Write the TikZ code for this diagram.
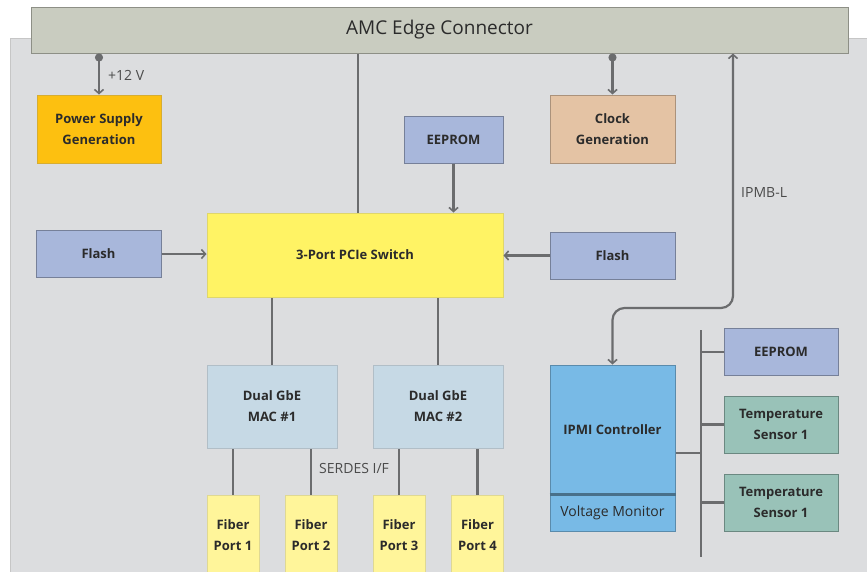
\documentclass[tikz,border=0pt]{standalone}
\usepackage{fontspec}
\setmainfont{Open Sans}
\usetikzlibrary{arrows.meta,positioning}
\definecolor{amcpanel}{HTML}{DCDDDF}
\definecolor{amcedge}{HTML}{C9CCC0}
\definecolor{amcline}{HTML}{6B6C6E}
\definecolor{amctext}{HTML}{2B2B2B}
\definecolor{amcpower}{HTML}{FDC010}
\definecolor{amcmem}{HTML}{A8B7DB}
\definecolor{amcclock}{HTML}{E4C3A4}
\definecolor{amcswitch}{HTML}{FFF364}
\definecolor{amcmac}{HTML}{C6D9E5}
\definecolor{amcfiber}{HTML}{FFF59A}
\definecolor{amcipmi}{HTML}{78BAE6}
\definecolor{amctemp}{HTML}{99C2B8}

\begin{document}
\begin{tikzpicture}[x=1pt, y=-1pt,
  every node/.style={text=amctext, font=\fontsize{13}{21}\selectfont\bfseries},
  block/.style={draw, rectangle, line width=1pt, align=center, inner sep=0pt},
  link/.style={draw=amcline, line width=2.2pt},
  tip/.style={-{Straight Barb[length=4pt, width=9pt, line width=1.6pt]}},
  tap/.style={{Circle[length=8pt]}-{Straight Barb[length=4pt, width=9pt, line width=1.6pt]}},
  sig/.style={font=\fontsize{14}{16}\selectfont, text=amctext!85, inner sep=0pt}]
  \useasboundingbox (0,0) rectangle (867,571);

  % Board outline
  \fill[amcpanel, draw=gray!45, line width=1pt] (10,38) rectangle (880,590);

  % Edge connector
  \node[block, fill=amcedge, draw=amcedge!70!black, minimum width=817pt, minimum height=46pt,
        font=\fontsize{19}{22}\selectfont] (amc) at (439.5,30) {AMC Edge Connector};

  % Power and clock
  \node[block, fill=amcpower, draw=amcpower!70!gray, minimum width=124pt, minimum height=68pt] (psu) at (99,129) {Power Supply\\Generation};
  \node[block, fill=amcclock, draw=amcclock!75!black, minimum width=125pt, minimum height=68pt] (clock) at (612.5,129) {Clock\\Generation};
  \draw[link, tap] (psu.north |- amc.south) -- (psu.north);
  \draw[link, tap] (clock.north |- amc.south) -- (clock.north);
  \node[sig, anchor=west] (v12) at (108,75) {+12 V};

  % PCIe switch
  \node[block, fill=amcswitch, draw=amcswitch!75!gray, minimum width=296pt, minimum height=84pt] (pcie) at (355,255) {3-Port PCIe Switch};
  \draw[link] ([xshift=3pt]pcie.north) -- ([xshift=3pt]pcie.north |- amc.south);

  \node[block, fill=amcmem, draw=amcmem!70!black, minimum width=99pt, minimum height=47pt] (eeprom) at (453.5,139.5) {EEPROM};
  \draw[link, tip] (eeprom.south) -- (eeprom.south |- pcie.north);

  \node[block, fill=amcmem, draw=amcmem!70!black, minimum width=125pt, minimum height=47pt] (flashl) at (98.5,254) {Flash};
  \node[block, fill=amcmem, draw=amcmem!70!black, minimum width=125pt, minimum height=47pt] (flashr) at (612.5,255.5) {Flash};
  \draw[link, tip] (flashl.east) -- (flashl.east -| pcie.west);
  \draw[link, tip] (flashr.west) -- (flashr.west -| pcie.east);

  % GbE MACs
  \node[block, fill=amcmac, draw=amcmac!70!gray, minimum width=130pt, minimum height=83pt] (mac1) at (272,406.5) {Dual GbE\\MAC \#1};
  \node[block, fill=amcmac, draw=amcmac!70!gray, minimum width=130pt, minimum height=83pt] (mac2) at (438,406.5) {Dual GbE\\MAC \#2};
  \draw[link] (mac1.north) -- (mac1.north |- pcie.south);
  \draw[link] (mac2.north) -- (mac2.north |- pcie.south);

  % Fiber ports
  \node[block, fill=amcfiber, draw=amcfiber!75!gray, minimum width=52pt, minimum height=80pt] (fiber1) at (233,535) {Fiber\\Port 1};
  \node[block, fill=amcfiber, draw=amcfiber!75!gray, minimum width=52pt, minimum height=80pt] (fiber2) at (311,535) {Fiber\\Port 2};
  \node[block, fill=amcfiber, draw=amcfiber!75!gray, minimum width=52pt, minimum height=80pt] (fiber3) at (399,535) {Fiber\\Port 3};
  \node[block, fill=amcfiber, draw=amcfiber!75!gray, minimum width=52pt, minimum height=80pt] (fiber4) at (477.5,535) {Fiber\\Port 4};
  \draw[link] (fiber1.north) -- (fiber1.north |- mac1.south);
  \draw[link] (fiber2.north) -- (fiber2.north |- mac1.south);
  \draw[link] (fiber3.north) -- (fiber3.north |- mac2.south);
  \draw[link] (fiber4.north) -- (fiber4.north |- mac2.south);
  \node[sig, anchor=west] (serdes) at (319,468) {SERDES I/F};

  % IPMI controller
  \node[block, fill=amcipmi, draw=amcipmi!75!black, minimum width=125pt, minimum height=129pt] (ipmi) at (612.5,429.5) {IPMI Controller};
  \node[block, fill=amcipmi, draw=amcipmi!75!black, minimum width=125pt, minimum height=37pt,
        font=\fontsize{14}{16}\selectfont] (vmon) at (612.5,512.5) {Voltage Monitor};
  \draw[draw=amcipmi!60!black, line width=3pt] (ipmi.south west) -- (ipmi.south east);

  \coordinate (ipmb) at (733,308);
  \draw[link, {Straight Barb[length=4pt, width=9pt, line width=1.6pt]}-{Straight Barb[length=4pt, width=9pt, line width=1.6pt]}, rounded corners=12pt]
    (ipmi.north) |- (ipmb) -- (ipmb |- amc.south);
  \node[sig, anchor=west] (ipmbl) at (741,192) {IPMB-L};

  % Sensor bus
  \node[block, fill=amcmem, draw=amcmem!70!black, minimum width=114pt, minimum height=47pt] (eeprom2) at (781,352) {EEPROM};
  \node[block, fill=amctemp, draw=amctemp!70!black, minimum width=114pt, minimum height=57pt] (temp1) at (781,424.5) {Temperature\\Sensor 1};
  \node[block, fill=amctemp, draw=amctemp!70!black, minimum width=114pt, minimum height=57pt] (temp2) at (781,502.5) {Temperature\\Sensor 1};
  \coordinate (bustop) at (701,330);
  \coordinate (busbot) at (701,557);
  \draw[link] (bustop) -- (busbot);
  \draw[link] (eeprom2.west) -- (eeprom2.west -| bustop);
  \draw[link] (temp1.west) -- (temp1.west -| bustop);
  \draw[link] (temp2.west) -- (temp2.west -| bustop);
  \draw[link] ([yshift=-23.5pt]ipmi.east) -- ([yshift=-23.5pt]ipmi.east -| bustop);
\end{tikzpicture}
\end{document}
